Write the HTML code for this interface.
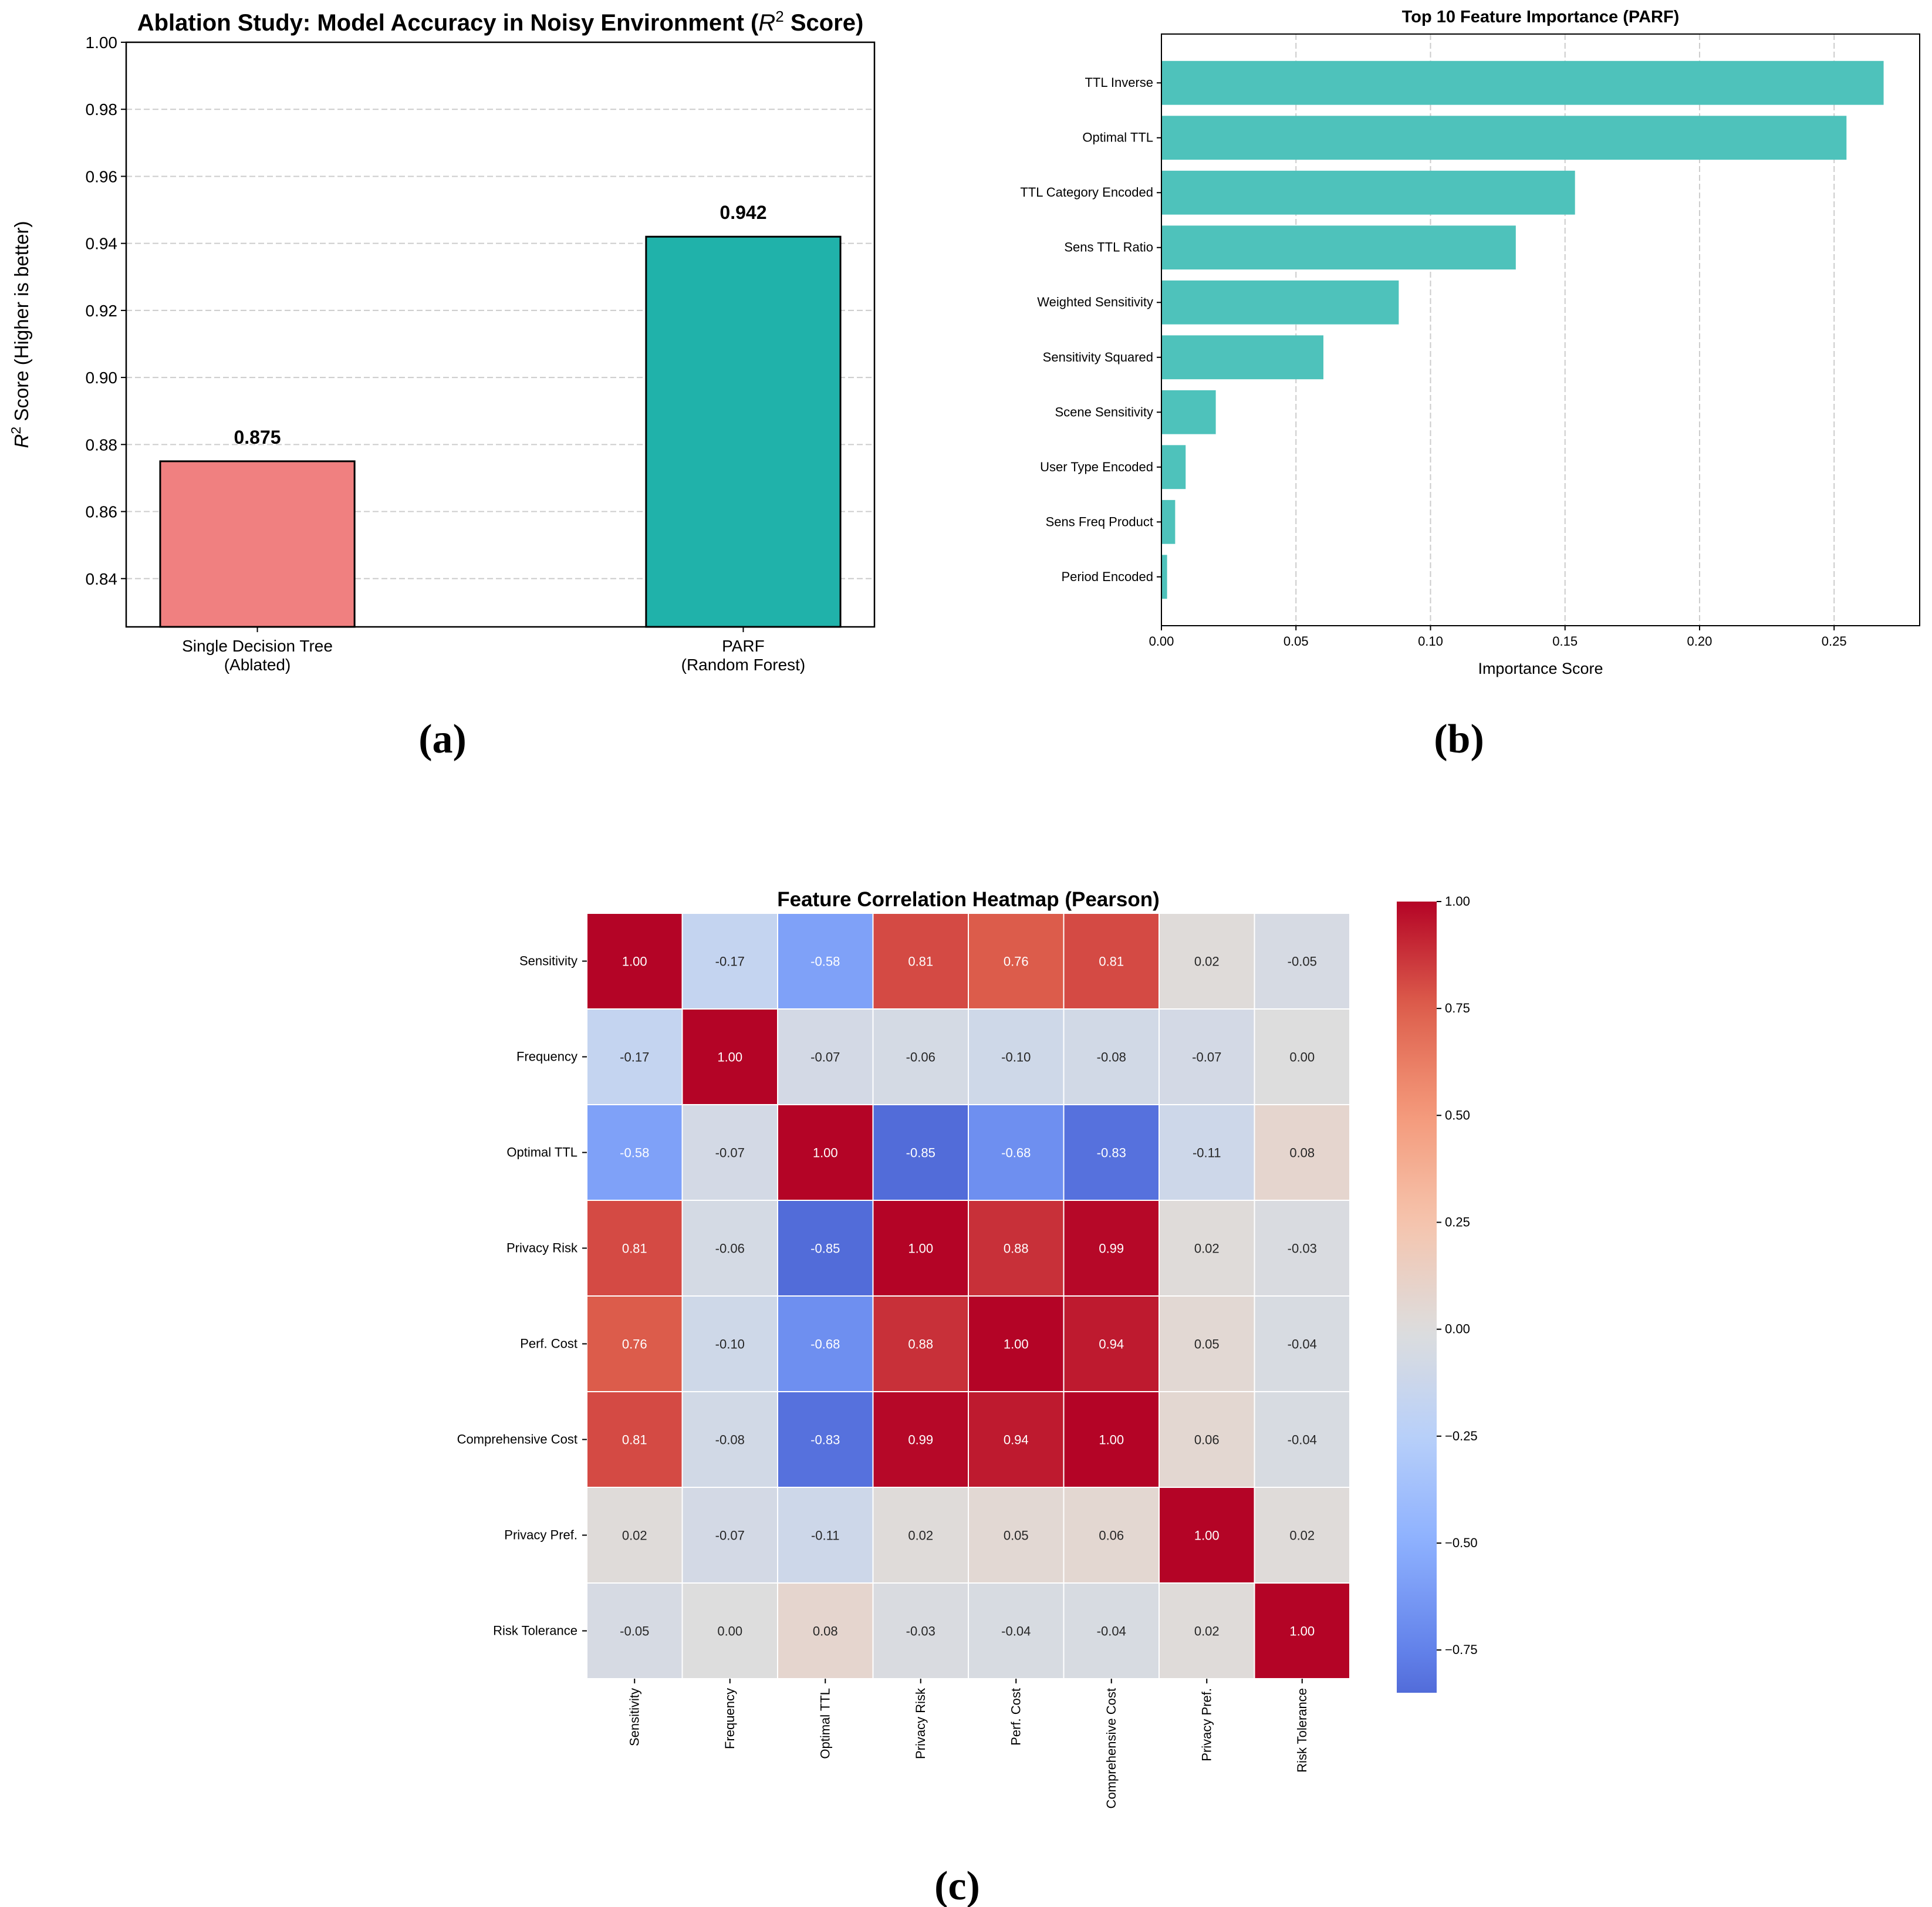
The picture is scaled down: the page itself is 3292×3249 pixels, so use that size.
<!DOCTYPE html>
<html><head><meta charset="utf-8"><style>
html,body{margin:0;padding:0;background:#fff}
svg{display:block;font-family:"Liberation Sans",Arial,sans-serif}
</style></head><body>
<svg id="fig" xmlns="http://www.w3.org/2000/svg" width="3292" height="3249" viewBox="0 0 3292 3249">
<rect width="3292" height="3249" fill="#fff"/>
<g id="pa"></g>
<g id="pb"></g>
<g id="pc"></g>
</svg>
<script>
// ---- Panel (a) data ----
const abCategories = ["Single Decision Tree|(Ablated)", "PARF|(Random Forest)"];
const abValues = [0.875, 0.942];
const abTicks = [0.84, 0.86, 0.88, 0.90, 0.92, 0.94, 0.96, 0.98, 1.00];
// ---- Panel (b) data ----
const fiFeatures = ["TTL Inverse","Optimal TTL","TTL Category Encoded","Sens TTL Ratio","Weighted Sensitivity","Sensitivity Squared","Scene Sensitivity","User Type Encoded","Sens Freq Product","Period Encoded"];
const fiValues = [0.2684,0.2546,0.1537,0.1317,0.0882,0.0602,0.0202,0.0090,0.0051,0.0021];
const fiTicks = [0,0.05,0.10,0.15,0.20,0.25];
// ---- Panel (c) data ----
const hmLabels = ["Sensitivity","Frequency","Optimal TTL","Privacy Risk","Perf. Cost","Comprehensive Cost","Privacy Pref.","Risk Tolerance"];
const hmRow0 = [1.00,-0.17,-0.58,0.81,0.76,0.81,0.02,-0.05];
const hmRow1 = [-0.17,1.00,-0.07,-0.06,-0.10,-0.08,-0.07,0.00];
const hmRow2 = [-0.58,-0.07,1.00,-0.85,-0.68,-0.83,-0.11,0.08];
const hmRow3 = [0.81,-0.06,-0.85,1.00,0.88,0.99,0.02,-0.03];
const hmRow4 = [0.76,-0.10,-0.68,0.88,1.00,0.94,0.05,-0.04];
const hmRow5 = [0.81,-0.08,-0.83,0.99,0.94,1.00,0.06,-0.04];
const hmRow6 = [0.02,-0.07,-0.11,0.02,0.05,0.06,1.00,0.02];
const hmRow7 = [-0.05,0.00,0.08,-0.03,-0.04,-0.04,0.02,1.00];
const hmCbTicks = [-0.75,-0.50,-0.25,0.00,0.25,0.50,0.75,1.00];

const NS="http://www.w3.org/2000/svg";
function mk(parent,tag,attrs,text){const e=document.createElementNS(NS,tag);for(const k in attrs)e.setAttribute(k,attrs[k]);if(text!==undefined)e.textContent=text;parent.appendChild(e);return e;}

// ================= Panel A =================
(function(){
const g=document.getElementById('pa');
const L=215,R=1490,T=72,B=1068,ymin=0.8256,ymax=1.0;
const y=v=>B-(v-ymin)/(ymax-ymin)*(B-T);
const xmin=-0.27,xmax=1.27;
const x=v=>L+(v-xmin)/(xmax-xmin)*(R-L);
abTicks.forEach(t=>{
  const gl=mk(g,'line',{x1:L,x2:R,y1:y(t),y2:y(t),stroke:'#cccccc','stroke-width':2,'stroke-dasharray':'10,5'});
  
  
  mk(g,'line',{x1:L-9,x2:L,y1:y(t),y2:y(t),stroke:'#000','stroke-width':2});
  const tl=mk(g,'text',{x:L-15,y:y(t)+10,'text-anchor':'end','font-size':28},t.toFixed(2));
  
  
});
const colors=['#f08080','#20b2aa'];
abValues.forEach((v,i)=>{
  const r=mk(g,'rect',{x:x(i-0.2),y:y(v),width:x(i+0.2)-x(i-0.2),height:B-y(v),fill:colors[i],stroke:'#000','stroke-width':3});
  
  
  const vl=mk(g,'text',{x:x(i),y:y(v)-30,'text-anchor':'middle','font-size':32,'font-weight':'bold'},v.toFixed(3));
  
  
  mk(g,'line',{x1:x(i),x2:x(i),y1:B,y2:B+9,stroke:'#000','stroke-width':2});
  const parts=abCategories[i].split('|');
  parts.forEach((p,j)=>{
    const cl=mk(g,'text',{x:x(i),y:B+42+j*32,'text-anchor':'middle','font-size':28},p);
    
    
  });
});
const fr=mk(g,'rect',{x:L,y:T,width:R-L,height:B-T,fill:'none',stroke:'#000','stroke-width':2.5});


const ti=mk(g,'text',{x:(L+R)/2,y:52,'text-anchor':'middle','font-size':40,'font-weight':'bold'});


ti.innerHTML='Ablation Study: Model Accuracy in Noisy Environment (<tspan font-style="italic" font-weight="normal">R</tspan><tspan font-size="26" dy="-15" font-weight="normal">2</tspan><tspan dy="15"> Score)</tspan>';
const yl=mk(g,'text',{transform:'translate(48,570) rotate(-90)','text-anchor':'middle','font-size':33});


yl.innerHTML='<tspan font-style="italic">R</tspan><tspan font-size="23" dy="-13">2</tspan><tspan dy="13"> Score (Higher is better)</tspan>';
const pl=mk(g,'text',{x:754,y:1282,'text-anchor':'middle','font-size':70,'font-weight':'bold','font-family':'"Liberation Serif",serif'},'(a)');


})();

// ================= Panel B =================
(function(){
const g=document.getElementById('pb');
const L=1979,R=3271,T=58,B=1066,xmin=0,xmax=0.2818;
const x=v=>L+(v-xmin)/(xmax-xmin)*(R-L);
const n=fiFeatures.length, lo=-0.89, hi=n-1+0.89;
const y=i=>T+(i-lo)/(hi-lo)*(B-T);
fiTicks.forEach(t=>{
  const gl=mk(g,'line',{x1:x(t),x2:x(t),y1:T,y2:B,stroke:'#cccccc','stroke-width':2,'stroke-dasharray':'10,5'});
  
  
  mk(g,'line',{x1:x(t),x2:x(t),y1:B,y2:B+8,stroke:'#000','stroke-width':2});
  const tl=mk(g,'text',{x:x(t),y:B+34,'text-anchor':'middle','font-size':22},t.toFixed(2));
  
  
});
const bh=(y(1)-y(0))*0.8;
fiValues.forEach((v,i)=>{
  const r=mk(g,'rect',{x:x(0),y:y(i)-bh/2,width:x(v)-x(0),height:bh,fill:'#4ec2bb'});
  
  
  mk(g,'line',{x1:L-8,x2:L,y1:y(i),y2:y(i),stroke:'#000','stroke-width':2});
  const tl=mk(g,'text',{x:L-14,y:y(i)+7,'text-anchor':'end','font-size':22},fiFeatures[i]);
  
  
});
const fr=mk(g,'rect',{x:L,y:T,width:R-L,height:B-T,fill:'none',stroke:'#000','stroke-width':2});


const ti=mk(g,'text',{x:(L+R)/2,y:38,'text-anchor':'middle','font-size':29,'font-weight':'bold'},'Top 10 Feature Importance (PARF)');


const xl=mk(g,'text',{x:(L+R)/2,y:1148,'text-anchor':'middle','font-size':27},'Importance Score');


const pl=mk(g,'text',{x:2486,y:1282,'text-anchor':'middle','font-size':70,'font-weight':'bold','font-family':'"Liberation Serif",serif'},'(b)');


})();

// ================= Panel C =================
(function(){
const g=document.getElementById('pc');
const rows=[hmRow0,hmRow1,hmRow2,hmRow3,hmRow4,hmRow5,hmRow6,hmRow7];
const L=1000,R=2300,T=1556,B=2860,n=hmLabels.length;
const cw=(R-L)/n, ch=(B-T)/n;
const all=rows.flat(); const vmin=Math.min(...all), vmax=Math.max(...all);
const span=Math.max(Math.abs(vmin),Math.abs(vmax)); // centered at 0
const stops=[[59,76,192],[98,130,234],[141,176,254],[184,208,249],[221,221,221],[245,196,173],[244,154,123],[222,96,77],[180,4,38]];
function cmap(v){let t=(v+span)/(2*span);t=Math.max(0,Math.min(1,t));const p=t*8,i=Math.min(7,Math.floor(p)),f=p-i;
  return stops[i].map((a,k)=>Math.round(a+(stops[i+1][k]-a)*f));}
function lin(c){c/=255;return c<=0.03928?c/12.92:Math.pow((c+0.055)/1.055,2.4);}
rows.forEach((row,r)=>row.forEach((v,c)=>{
  const col=cmap(v);
  const rc=mk(g,'rect',{x:L+c*cw,y:T+r*ch,width:cw,height:ch,fill:`rgb(${col})`,stroke:'#fff','stroke-width':2});
  
  
  const lum=0.2126*lin(col[0])+0.7152*lin(col[1])+0.0722*lin(col[2]);
  const tx=mk(g,'text',{x:L+(c+0.5)*cw,y:T+(r+0.5)*ch+8,'text-anchor':'middle','font-size':22,fill:lum>0.408?'#262626':'#fff'},v.toFixed(2));
  
  
}));
hmLabels.forEach((lab,i)=>{
  mk(g,'line',{x1:L-8,x2:L,y1:T+(i+0.5)*ch,y2:T+(i+0.5)*ch,stroke:'#000','stroke-width':2});
  const yl=mk(g,'text',{x:L-16,y:T+(i+0.5)*ch+7,'text-anchor':'end','font-size':22},lab);
  
  
  const cx=L+(i+0.5)*cw;
  mk(g,'line',{x1:cx,x2:cx,y1:B,y2:B+8,stroke:'#000','stroke-width':2});
  const xl=mk(g,'text',{transform:`translate(${cx+7},${B+16}) rotate(-90)`,'text-anchor':'end','font-size':22},lab);
  
  
});
// colorbar
const cL=2380,cR=2448,cT=1536,cB=2884;
const cy=v=>cB-(v-vmin)/(vmax-vmin)*(cB-cT);
const defs=mk(g,'defs',{});
const lg=mk(defs,'linearGradient',{id:'cbg',x1:0,y1:1,x2:0,y2:0});
for(let k=0;k<=40;k++){const v=vmin+(vmax-vmin)*k/40;mk(lg,'stop',{offset:k/40,'stop-color':`rgb(${cmap(v)})`});}
const cb=mk(g,'rect',{x:cL,y:cT,width:cR-cL,height:cB-cT,fill:'url(#cbg)'});


hmCbTicks.forEach(t=>{
  mk(g,'line',{x1:cR,x2:cR+8,y1:cy(t),y2:cy(t),stroke:'#000','stroke-width':2});
  const tl=mk(g,'text',{x:cR+14,y:cy(t)+7,'font-size':22},(t<0?'\u2212':'')+Math.abs(t).toFixed(2));
  
  
});
const ti=mk(g,'text',{x:(L+R)/2,y:1544,'text-anchor':'middle','font-size':35,'font-weight':'bold'},'Feature Correlation Heatmap (Pearson)');


const pl=mk(g,'text',{x:1631,y:3236,'text-anchor':'middle','font-size':70,'font-weight':'bold','font-family':'"Liberation Serif",serif'},'(c)');


})();
</script>
</body></html>
